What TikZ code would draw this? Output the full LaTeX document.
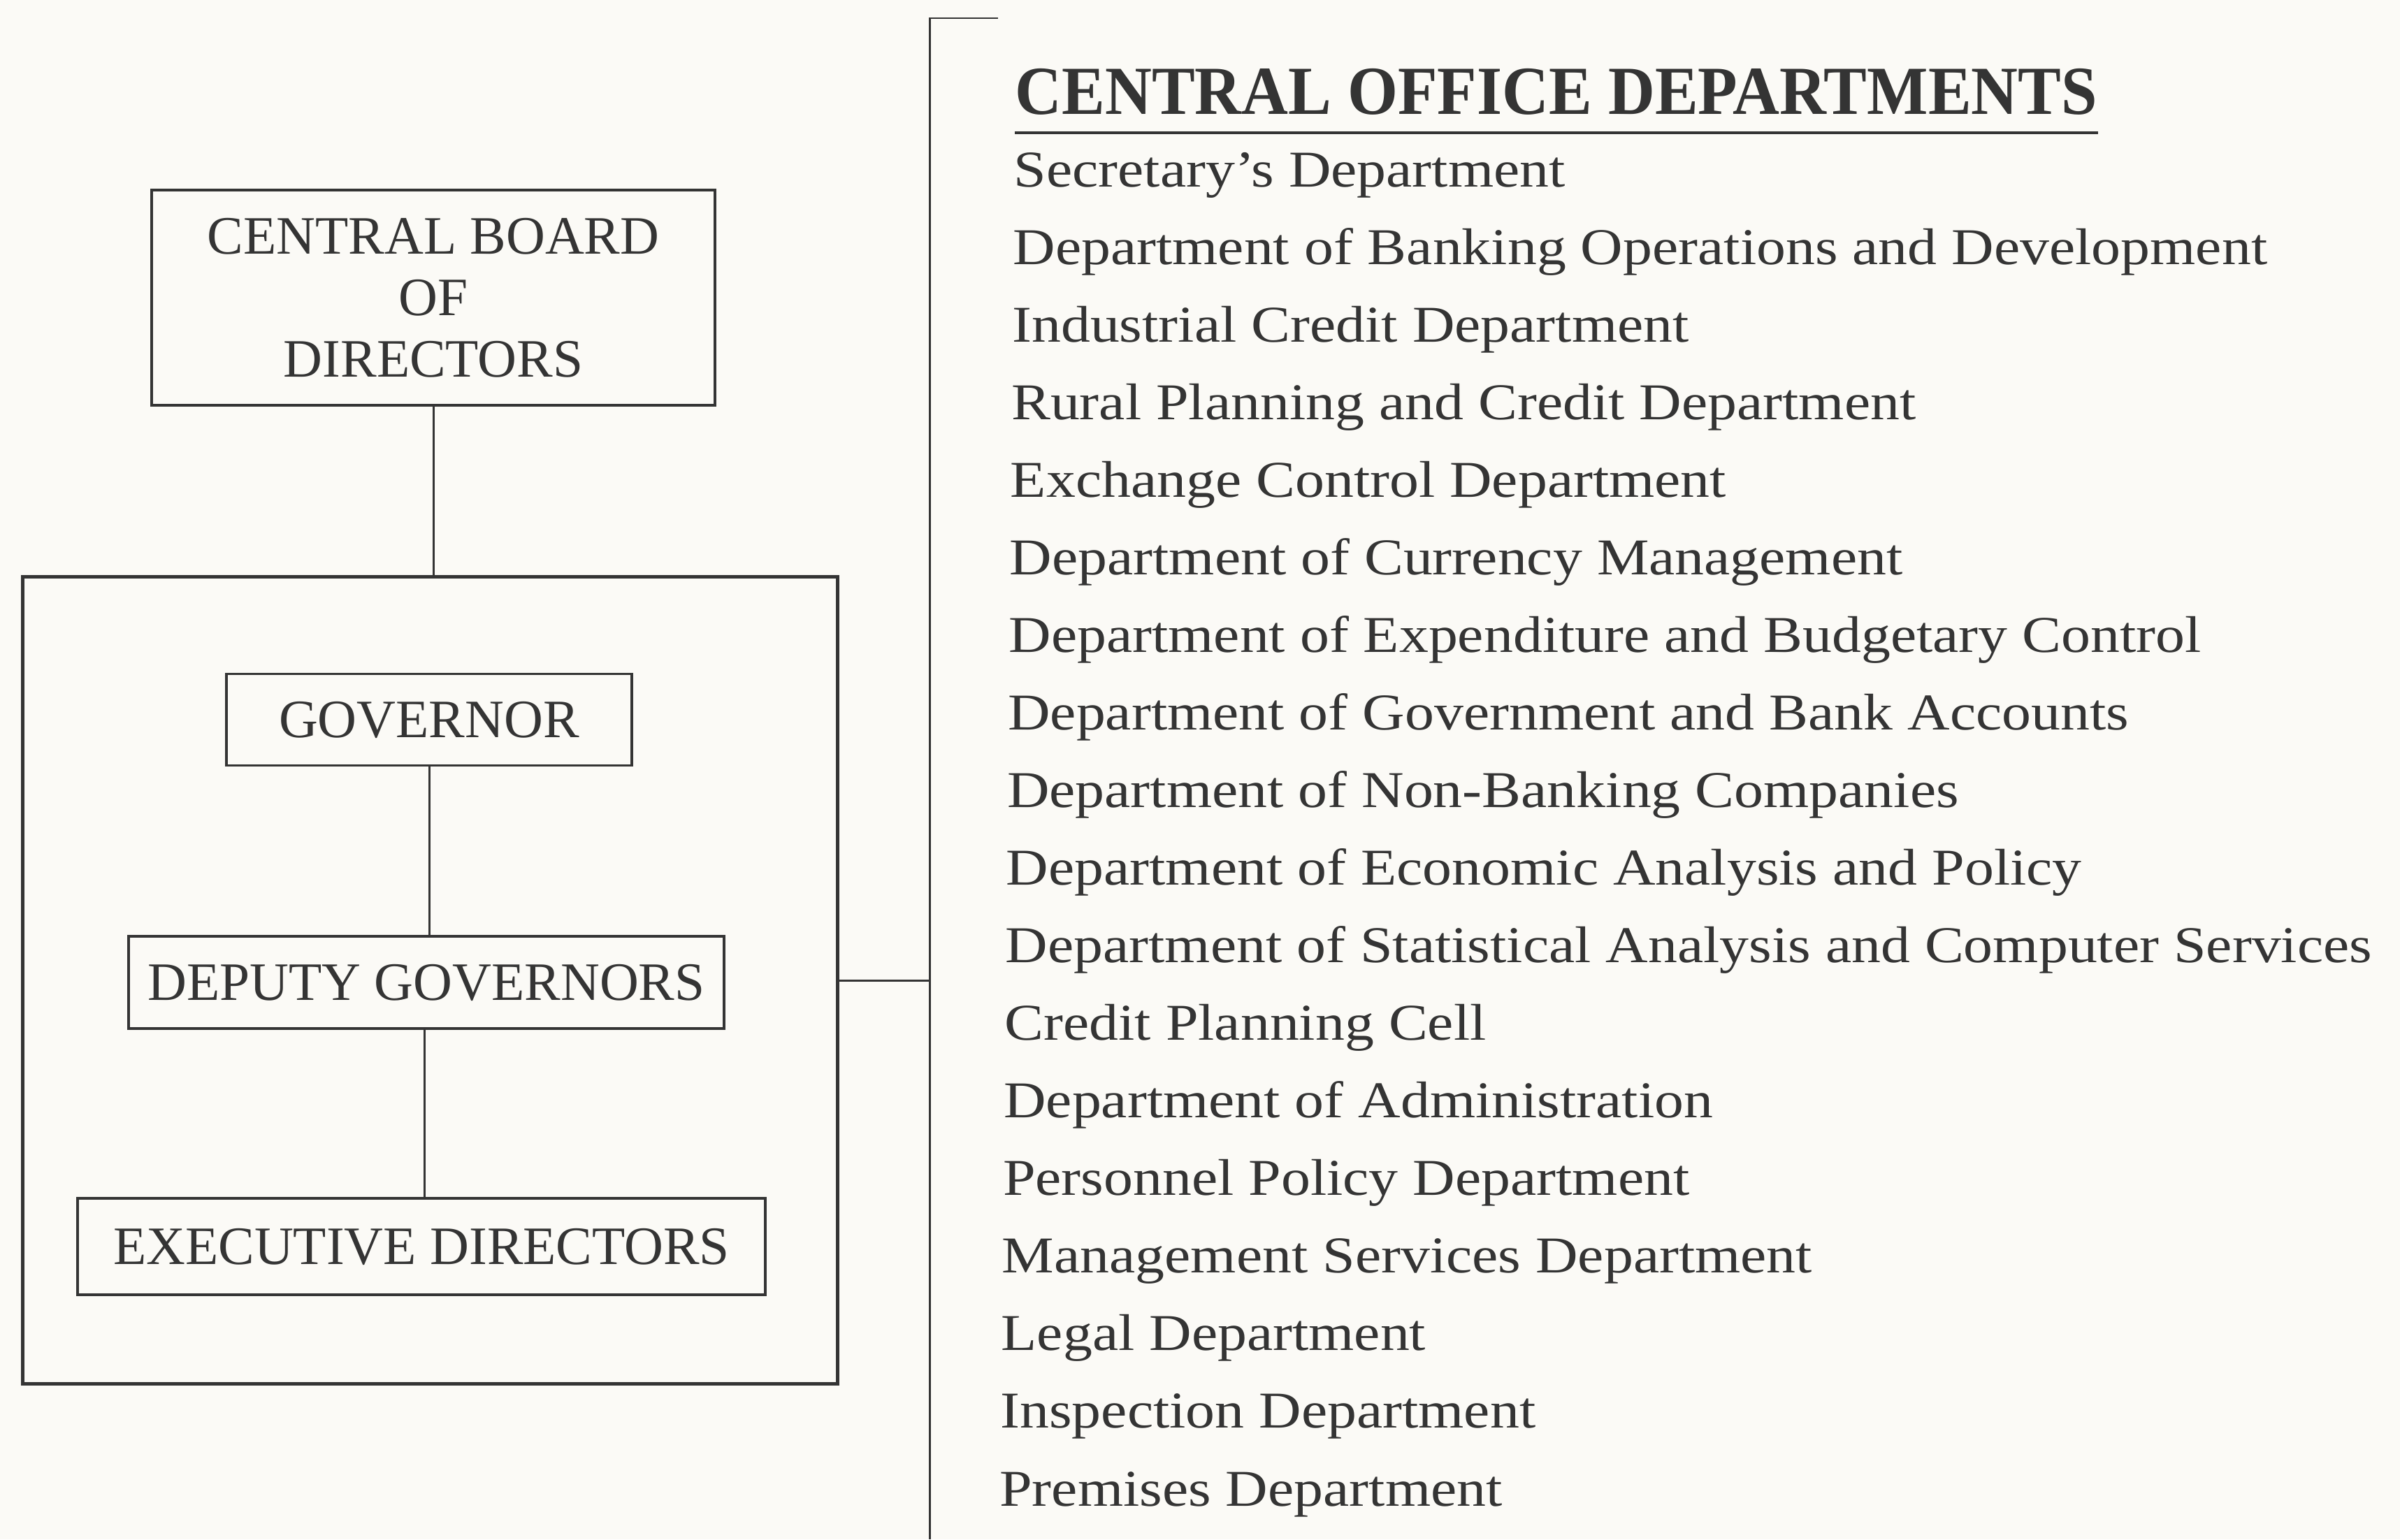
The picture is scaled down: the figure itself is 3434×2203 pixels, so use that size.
\documentclass[tikz,border=0pt]{standalone}
\usepackage{fontspec}
\setmainfont{Liberation Serif}
\newfontfamily\deptfont[FakeStretch=1.135]{Liberation Serif}
\usepackage{graphicx}
\definecolor{paper}{RGB}{251,250,246}
\definecolor{ink}{RGB}{52,52,52}
\begin{document}
\begin{tikzpicture}[x=0.01cm,y=-0.01cm,
  orgbox/.style={draw=ink, line width=1.1pt, inner sep=0pt, align=center,
    text=ink, font=\fontsize{22}{25}\selectfont},
  outerbox/.style={draw=ink, line width=1.6pt, inner sep=0pt},
  link/.style={draw=ink, line width=0.85pt},
  dept/.style={anchor=base west, inner sep=0pt, text=ink,
    font=\deptfont\fontsize{21}{24}\selectfont},
  heading/.style={anchor=base west, inner sep=0pt, text=ink,
    font=\bfseries\fontsize{28}{30}\selectfont}]
\fill[paper] (0,0) rectangle (3434,2203);
\useasboundingbox (0,0) rectangle (3434,2203);

% board and the governing group
\node[orgbox, minimum width=8.06cm, minimum height=3.08cm] (board) at (620,426)
  {CENTRAL BOARD\\OF\\DIRECTORS};
\node[outerbox, minimum width=11.65cm, minimum height=11.54cm] (council) at (615.5,1403) {};
\node[orgbox, minimum width=5.80cm, minimum height=1.31cm] (gov) at (614,1030) {GOVERNOR};
\node[orgbox, minimum width=8.52cm, minimum height=1.32cm] (deputy) at (610,1406) {DEPUTY GOVERNORS};
\node[orgbox, minimum width=9.83cm, minimum height=1.38cm] (exec) at (603,1784) {EXECUTIVE DIRECTORS};

\draw[link] (board.south) -- (board.south |- council.north);
\draw[link] (gov.south) -- (gov.south |- deputy.north);
\draw[link] ([xshift=-0.03cm]deputy.south) -- ([xshift=-0.03cm]deputy.south |- exec.north);

% bracket to the department list
\coordinate (brtick) at (1428,26);
\coordinate (brtop) at (1330,26);
\coordinate (brbot) at (1330,2203);
\draw[link] (brtick) -- (brtop) -- (brbot);
\draw[link] (council.east) -- (council.east -| brtop);

% heading
\node[heading] (title) at (1452,164) {\scalebox{0.94}[1]{CENTRAL OFFICE DEPARTMENTS}};
\draw[ink, line width=1.2pt] ([yshift=-0.26cm]title.base west) -- ([yshift=-0.26cm]title.base east);

% departments
\foreach \name [count=\i from 0] in {
  Secretary’s Department,
  Department of Banking Operations and Development,
  Industrial Credit Department,
  Rural Planning and Credit Department,
  Exchange Control Department,
  Department of Currency Management,
  Department of Expenditure and Budgetary Control,
  Department of Government and Bank Accounts,
  Department of Non-Banking Companies,
  Department of Economic Analysis and Policy,
  Department of Statistical Analysis and Computer Services,
  Credit Planning Cell,
  Department of Administration,
  Personnel Policy Department,
  Management Services Department,
  Legal Department,
  Inspection Department,
  Premises Department}
  \node[dept] (d\i) at ({1450-1.2*\i},{267+111.06*\i}) {\name};
\end{tikzpicture}
\end{document}
